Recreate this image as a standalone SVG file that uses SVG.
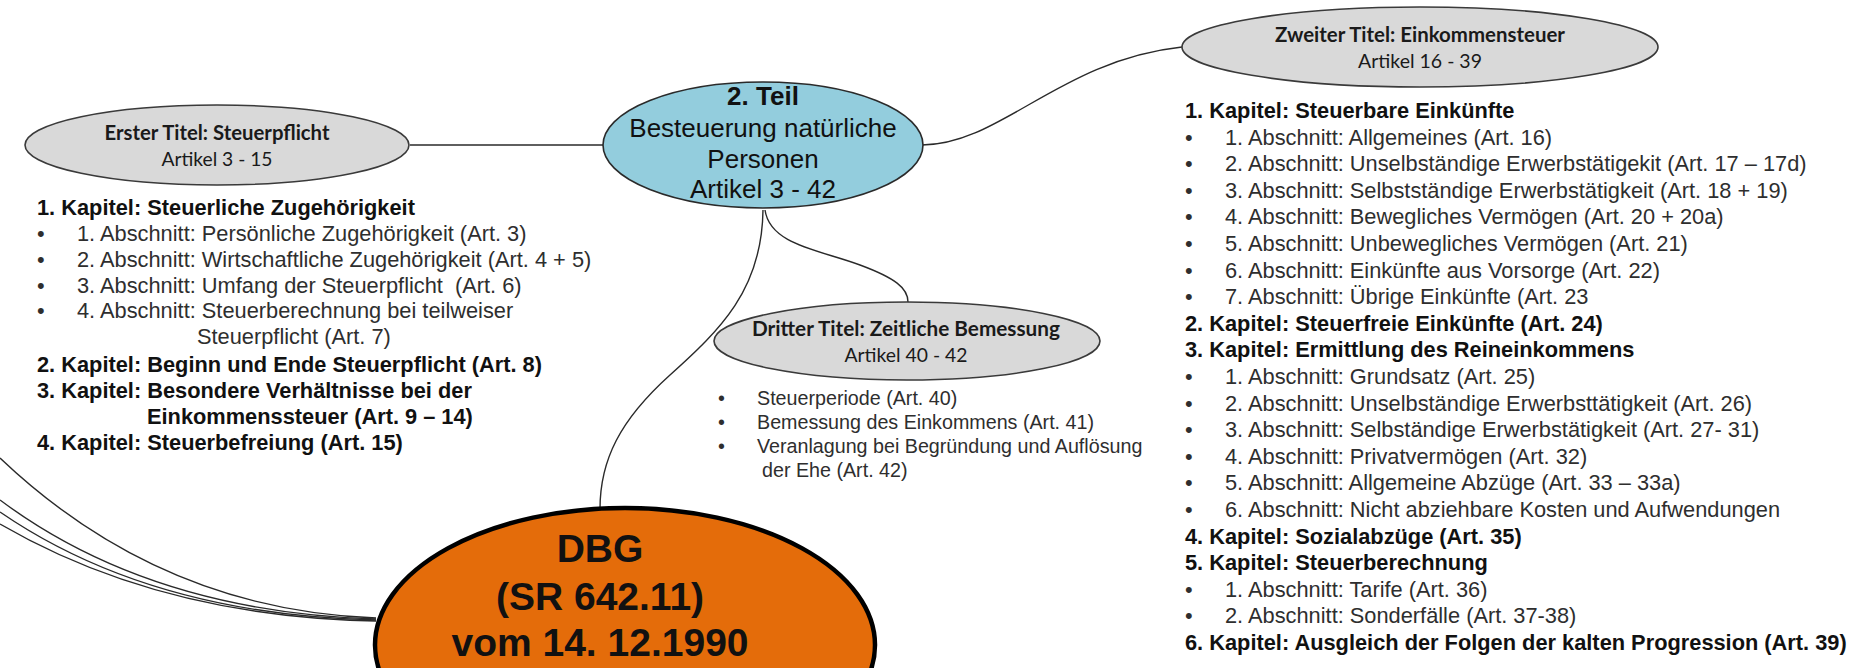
<svg xmlns="http://www.w3.org/2000/svg" width="1863" height="668" viewBox="0 0 1863 668">
<style>
.bg{fill:#ffffff}
.conn{fill:none;stroke:#2a2a2a;stroke-width:1.4}
.title-ell{fill:#d9d9d9;stroke:#3a3a3a;stroke-width:1.6}
.teil-ell{fill:#93cddd;stroke:#2a2a2a;stroke-width:1.6}
.dbg-ell{fill:#e46c0a;stroke:#000000;stroke-width:4.5}
.tb{font-family:Lato,"Open Sans","Liberation Sans",sans-serif;font-weight:bold;font-size:20px;fill:#1a1a1a;text-anchor:middle}
.tr{font-family:Lato,"Open Sans","Liberation Sans",sans-serif;font-size:20px;fill:#1a1a1a;text-anchor:middle}
.teil{font-family:"Liberation Sans",Arial,sans-serif;font-size:26px;fill:#111;text-anchor:middle}
.dbg{font-family:"Liberation Sans",Arial,sans-serif;font-weight:bold;font-size:39px;fill:#111;text-anchor:middle}
.k{font-family:"Liberation Sans",Arial,sans-serif;font-weight:bold;font-size:21.8px;fill:#111}
.a{font-family:"Liberation Sans",Arial,sans-serif;font-size:21.8px;fill:#2e2e2e}
.d{font-family:"Liberation Sans",Arial,sans-serif;font-size:19.7px;fill:#2e2e2e}
</style>
<rect class="bg" x="0" y="0" width="1863" height="668"/>

<g id="connectors">
  <path class="conn" d="M410,145 L603,145"/>
  <path class="conn" d="M922,145 C1000,145 1060,60 1182,47"/>
  <path class="conn" d="M765,210 C770,245 820,250 860,265 C895,278 908,288 908,302"/>
  <path class="conn" d="M763,210 C762,290 720,330 670,375 C620,420 600,460 600,509"/>
  <path class="conn" d="M0,458 Q160,610 376,618"/>
  <path class="conn" d="M0,500 Q150,612 376,619"/>
  <path class="conn" d="M0,512 Q150,615 376,620"/>
  <path class="conn" d="M0,524 Q160,617 376,621"/>
</g>

<g id="erster-titel">
  <ellipse class="title-ell" cx="217" cy="145" rx="192" ry="40"/>
  <text class="tb" x="217" y="140" textLength="225" lengthAdjust="spacingAndGlyphs">Erster Titel: Steuerpflicht</text>
  <text class="tr" x="217" y="166" textLength="111" lengthAdjust="spacingAndGlyphs">Artikel 3 - 15</text>
</g>

<g id="erster-titel-inhalt">
  <text class="k" x="37" y="215">1. Kapitel: Steuerliche Zugehörigkeit</text>
  <text class="a" x="37" y="241">•</text><text class="a" x="77" y="241">1. Abschnitt: Persönliche Zugehörigkeit (Art. 3)</text>
  <text class="a" x="37" y="267">•</text><text class="a" x="77" y="267">2. Abschnitt: Wirtschaftliche Zugehörigkeit (Art. 4 + 5)</text>
  <text class="a" x="37" y="293">•</text><text class="a" x="77" y="293" xml:space="preserve">3. Abschnitt: Umfang der Steuerpflicht  (Art. 6)</text>
  <text class="a" x="37" y="318">•</text><text class="a" x="77" y="318">4. Abschnitt: Steuerberechnung bei teilweiser</text>
  <text class="a" x="197" y="344">Steuerpflicht (Art. 7)</text>
  <text class="k" x="37" y="372">2. Kapitel: Beginn und Ende Steuerpflicht (Art. 8)</text>
  <text class="k" x="37" y="398">3. Kapitel: Besondere Verhältnisse bei der</text>
  <text class="k" x="147" y="424">Einkommenssteuer (Art. 9 – 14)</text>
  <text class="k" x="37" y="450">4. Kapitel: Steuerbefreiung (Art. 15)</text>
</g>

<g id="teil-2">
  <ellipse class="teil-ell" cx="763" cy="145" rx="160" ry="63"/>
  <text class="teil" x="763" y="105" font-weight="bold">2. Teil</text>
  <text class="teil" x="763" y="137">Besteuerung natürliche</text>
  <text class="teil" x="763" y="168">Personen</text>
  <text class="teil" x="763" y="198">Artikel 3 - 42</text>
</g>

<g id="zweiter-titel">
  <ellipse class="title-ell" cx="1420" cy="47" rx="238" ry="40"/>
  <text class="tb" x="1420" y="42" textLength="290" lengthAdjust="spacingAndGlyphs">Zweiter Titel: Einkommensteuer</text>
  <text class="tr" x="1420" y="68" textLength="124" lengthAdjust="spacingAndGlyphs">Artikel 16 - 39</text>
</g>

<g id="zweiter-titel-inhalt">
  <text class="k" x="1185" y="118">1. Kapitel: Steuerbare Einkünfte</text>
  <text class="a" x="1185" y="144.6">•</text><text class="a" x="1225" y="144.6">1. Abschnitt: Allgemeines (Art. 16)</text>
  <text class="a" x="1185" y="171.2">•</text><text class="a" x="1225" y="171.2">2. Abschnitt: Unselbständige Erwerbstätigekit (Art. 17 – 17d)</text>
  <text class="a" x="1185" y="197.8">•</text><text class="a" x="1225" y="197.8">3. Abschnitt: Selbstständige Erwerbstätigkeit (Art. 18 + 19)</text>
  <text class="a" x="1185" y="224.4">•</text><text class="a" x="1225" y="224.4">4. Abschnitt: Bewegliches Vermögen (Art. 20 + 20a)</text>
  <text class="a" x="1185" y="251">•</text><text class="a" x="1225" y="251">5. Abschnitt: Unbewegliches Vermögen (Art. 21)</text>
  <text class="a" x="1185" y="277.6">•</text><text class="a" x="1225" y="277.6">6. Abschnitt: Einkünfte aus Vorsorge (Art. 22)</text>
  <text class="a" x="1185" y="304.2">•</text><text class="a" x="1225" y="304.2">7. Abschnitt: Übrige Einkünfte (Art. 23</text>
  <text class="k" x="1185" y="330.8">2. Kapitel: Steuerfreie Einkünfte (Art. 24)</text>
  <text class="k" x="1185" y="357.4">3. Kapitel: Ermittlung des Reineinkommens</text>
  <text class="a" x="1185" y="384">•</text><text class="a" x="1225" y="384">1. Abschnitt: Grundsatz (Art. 25)</text>
  <text class="a" x="1185" y="410.6">•</text><text class="a" x="1225" y="410.6">2. Abschnitt: Unselbständige Erwerbsttätigkeit (Art. 26)</text>
  <text class="a" x="1185" y="437.2">•</text><text class="a" x="1225" y="437.2">3. Abschnitt: Selbständige Erwerbstätigkeit (Art. 27- 31)</text>
  <text class="a" x="1185" y="463.8">•</text><text class="a" x="1225" y="463.8">4. Abschnitt: Privatvermögen (Art. 32)</text>
  <text class="a" x="1185" y="490.4">•</text><text class="a" x="1225" y="490.4">5. Abschnitt: Allgemeine Abzüge (Art. 33 – 33a)</text>
  <text class="a" x="1185" y="517">•</text><text class="a" x="1225" y="517">6. Abschnitt: Nicht abziehbare Kosten und Aufwendungen</text>
  <text class="k" x="1185" y="543.6">4. Kapitel: Sozialabzüge (Art. 35)</text>
  <text class="k" x="1185" y="570.2">5. Kapitel: Steuerberechnung</text>
  <text class="a" x="1185" y="596.8">•</text><text class="a" x="1225" y="596.8">1. Abschnitt: Tarife (Art. 36)</text>
  <text class="a" x="1185" y="623.4">•</text><text class="a" x="1225" y="623.4">2. Abschnitt: Sonderfälle (Art. 37-38)</text>
  <text class="k" x="1185" y="650">6. Kapitel: Ausgleich der Folgen der kalten Progression (Art. 39)</text>
</g>

<g id="dritter-titel">
  <ellipse class="title-ell" cx="907" cy="341" rx="193" ry="39"/>
  <text class="tb" x="906" y="336" textLength="308" lengthAdjust="spacingAndGlyphs">Dritter Titel: Zeitliche Bemessung</text>
  <text class="tr" x="906" y="362" textLength="123" lengthAdjust="spacingAndGlyphs">Artikel 40 - 42</text>
</g>

<g id="dritter-titel-inhalt">
  <text class="d" x="718" y="405">•</text><text class="d" x="757" y="405">Steuerperiode (Art. 40)</text>
  <text class="d" x="718" y="429">•</text><text class="d" x="757" y="429">Bemessung des Einkommens (Art. 41)</text>
  <text class="d" x="718" y="453">•</text><text class="d" x="757" y="453">Veranlagung bei Begründung und Auflösung</text>
  <text class="d" x="762" y="477">der Ehe (Art. 42)</text>
</g>

<g id="dbg">
  <ellipse class="dbg-ell" cx="625" cy="645" rx="250" ry="137"/>
  <text class="dbg" x="600" y="562">DBG</text>
  <text class="dbg" x="600" y="610">(SR 642.11)</text>
  <text class="dbg" x="600" y="656">vom 14. 12.1990</text>
</g>
</svg>
